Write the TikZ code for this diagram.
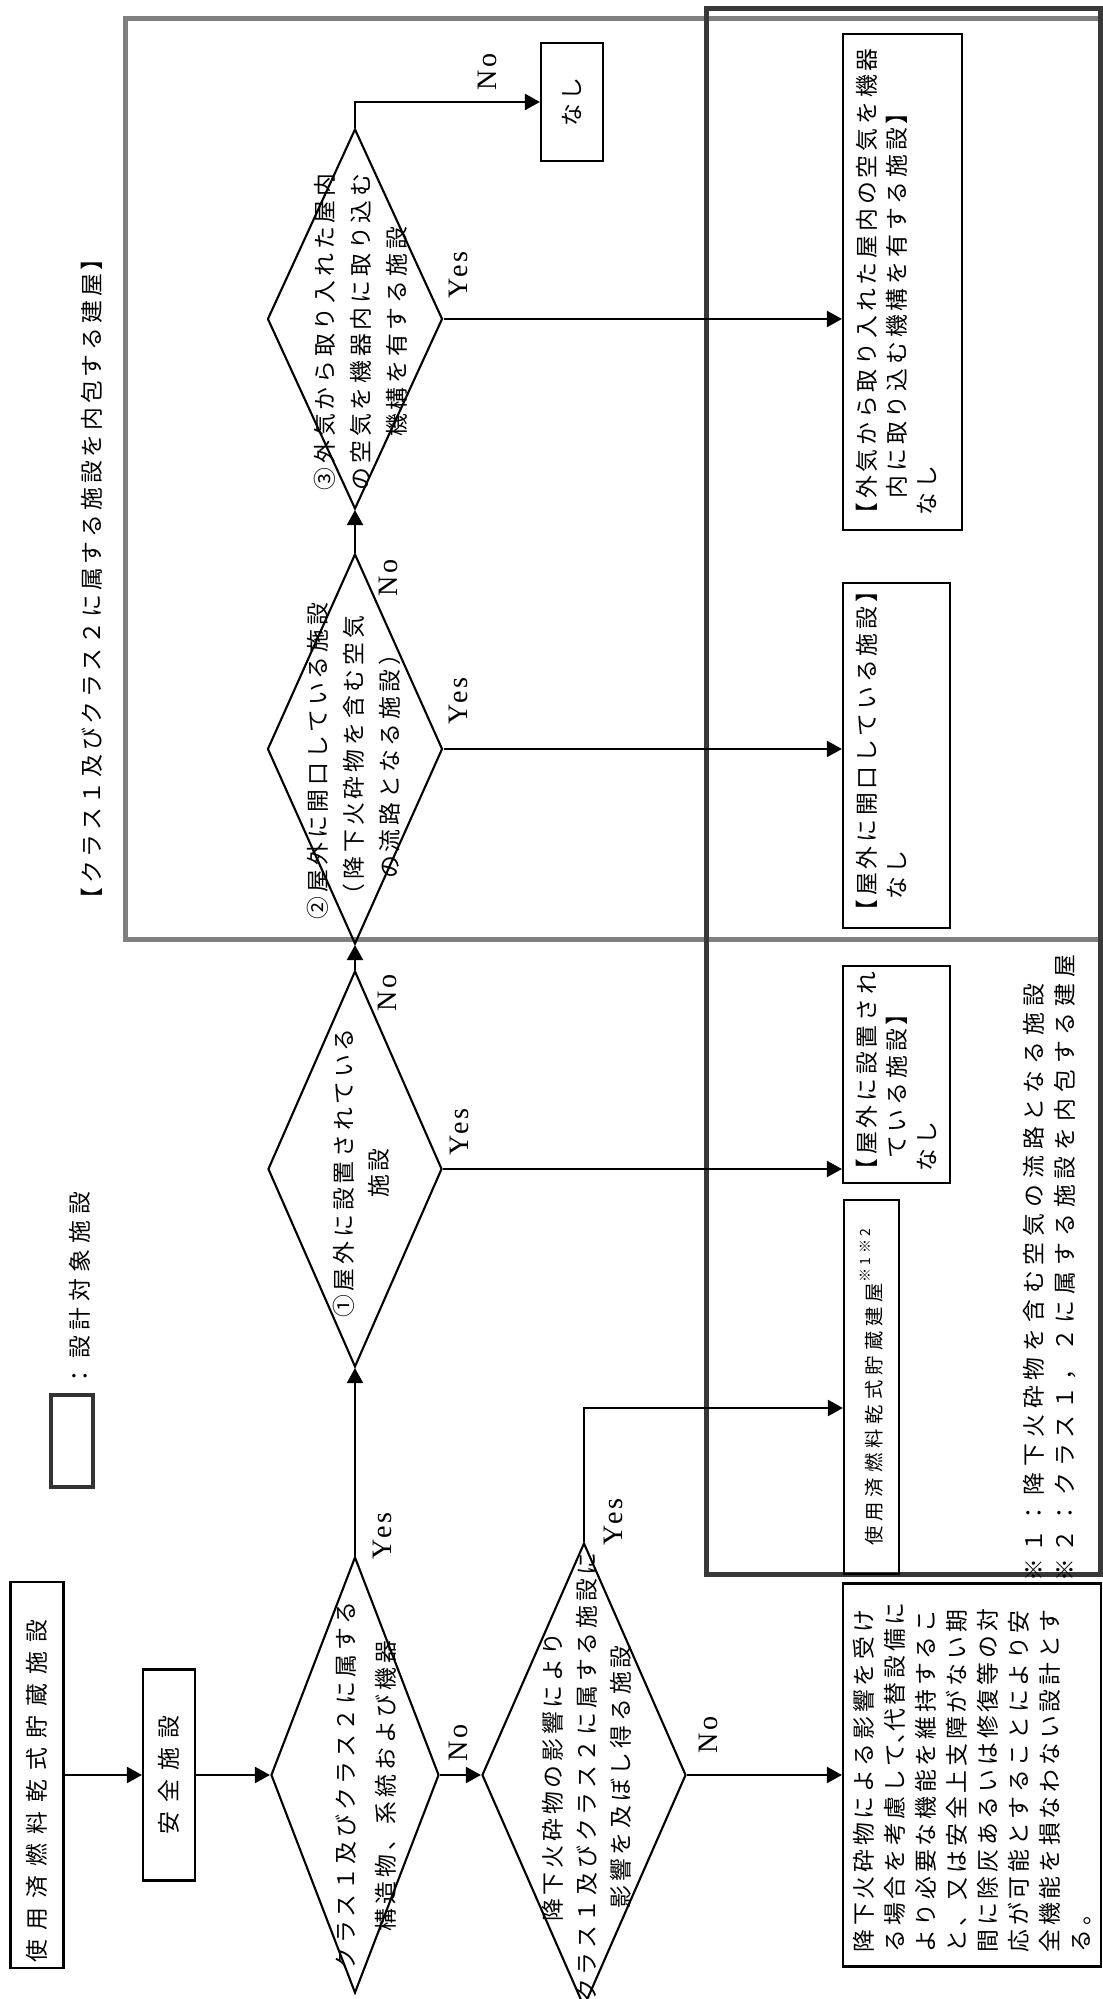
\documentclass[tikz,border=0pt]{standalone}
\usepackage{fontspec}
\setmainfont{Liberation Serif}
\newfontfamily\jp[LetterSpace=17]{Noto Sans CJK JP}
\newfontfamily\jpwide[LetterSpace=40]{Noto Sans CJK JP}
\newfontfamily\jpnote[LetterSpace=26]{Noto Sans CJK JP}
\newfontfamily\yesno[LetterSpace=10]{Liberation Serif}
\usetikzlibrary{arrows.meta,shapes.geometric}
\tikzset{
  box/.style={draw, line width=0.42mm, inner sep=0pt},
  dia/.style={diamond, draw, line width=0.42mm, inner sep=0pt},
  hull/.style={draw, line width=1mm, inner sep=0pt},
  flow/.style={-{Triangle[length=3mm,width=3.2mm]}, line width=0.42mm},
  lbl/.style={font=\yesno\fontsize{16}{18}\selectfont, inner sep=0pt},
  jtxt/.style={font=\jp\fontsize{13}{#1}\selectfont, align=center, inner sep=0pt},
  jtxt/.default=16pt,
  para/.style={font=\jp\fontsize{13}{#1}\selectfont, align=left, inner sep=0pt, anchor=north west},
  para/.default=16pt,
}

\begin{document}
\begin{tikzpicture}[x=0.2mm, y=0.2mm, rotate=90, transform shape]
  \useasboundingbox (0,0) rectangle (1999,1102);

  % --- frames ---
  \node (encl) [hull, draw=black!50, minimum width=184.2mm, minimum height=194.8mm] at (1519.5,489) {};
  \node (target) [hull, draw=black!78, minimum width=313mm, minimum height=78.6mm] at (1207.5,198.5) {};
  \node (ttl) [jtxt] at (1420,1010) {【クラス１及びクラス２に属する施設を内包する建屋】};

  % --- legend ---
  \node (leg) [hull, line width=0.8mm, draw=black!80, minimum width=18.4mm, minimum height=8.4mm] at (558,1030) {};
  \node (legtxt) [jtxt, anchor=west, font=\jpnote\fontsize{13}{16}\selectfont] at (611,1022) {：設計対象施設};

  % --- main column ---
  \node (top) [box, text width=74.8mm, inner xsep=1.2mm, align=left, minimum height=10.6mm,
    font=\jpwide\fontsize{13}{16}\selectfont] at (224,1065) {使用済燃料乾式貯蔵施設};
  \node (safe) [box, minimum width=42.2mm, minimum height=10.4mm,
    font=\jpwide\fontsize{13}{16}\selectfont] at (224,933) {安全施設};
  \node (d1) [dia, minimum width=87.2mm, minimum height=33.6mm] at (224,747) {};
  \node (d1txt) [jtxt=22.8pt] at (213,736) {クラス１及びクラス２に属する\\構造物、系統および機器};
  \node (d2) [dia, minimum width=92.8mm, minimum height=40.8mm] at (224,518) {};
  \node (d2txt) [jtxt=19.3pt] at (222,515) {降下火砕物の影響により\\クラス１及びクラス２に属する施設に\\影響を及ぼし得る施設};
  \node (final) [box, minimum width=76.6mm, minimum height=51.6mm] at (224,130) {};
  \node (finaltxt) [para=17.6pt] at (46,249) {降下火砕物による影響を受け\\る場合を考慮して\makebox[0.5em][l]{、}代替設備に\\より必要な機能を維持するこ\\と、又は安全上支障がない期\\間に除灰あるいは修復等の対\\応が可能とすることにより安\\全機能を損なわない設計とす\\る。};
  \node (bldg) [box, minimum width=74.8mm, minimum height=11mm,
    font=\jpnote\fontsize{11}{14}\selectfont] at (612,230.5) {使用済燃料乾式貯蔵建屋\raisebox{0.6em}{\fontsize{8}{9}\selectfont ※1※2}};

  % --- checks inside the building ---
  \node (d3) [dia, minimum width=79.2mm, minimum height=34.8mm] at (830,747) {};
  \node (d3txt) [jtxt=20pt] at (826,741) {①屋外に設置されている\\施設};
  \node (d4) [dia, minimum width=78mm, minimum height=35mm] at (1250,747) {};
  \node (d4txt) [jtxt=20.5pt] at (1238,748) {②屋外に開口している施設\\（降下火砕物を含む空気\\の流路となる施設）};
  \node (d5) [dia, minimum width=76mm, minimum height=35mm] at (1680,747) {};
  \node (d5txt) [jtxt=20.5pt] at (1667,741) {③外気から取り入れた屋内\\の空気を機器内に取り込む\\機構を有する施設};

  \node (out1) [box, minimum width=43.4mm, minimum height=21.4mm] at (924.5,205.5) {};
  \node (out1txt) [para=17pt] at (817,246) {【屋外に設置され\\\hspace*{1em}ている施設】\\\hspace*{0.45em}なし};
  \node (out2) [box, minimum width=69mm, minimum height=21.4mm] at (1243.5,205.5) {};
  \node (out2txt) [para=17pt] at (1076,246) {【屋外に開口している施設】\\\hspace*{1em}なし};
  \node (out3) [box, minimum width=99.2mm, minimum height=23.8mm] at (1717,199.5) {};
  \node (out3txt) [para=17pt] at (1473,246) {【外気から取り入れた屋内の空気を機器\\\hspace*{1.2em}内に取り込む機構を有する施設】\\\hspace*{0.45em}なし};
  \node (none) [box, minimum width=23.6mm, minimum height=12.4mm,
    font=\jp\fontsize{13}{16}\selectfont] at (1897,530) {なし};

  % --- notes ---
  \node (fn1) [jtxt, anchor=west, font=\jpnote\fontsize{13}{16}\selectfont] at (417,68) {※１：降下火砕物を含む空気の流路となる施設};
  \node (fn2) [jtxt, anchor=west, font=\jpnote\fontsize{13}{16}\selectfont] at (417,37) {※２：クラス１，２に属する施設を内包する建屋};

  % --- connectors ---
  \coordinate (bend) at (591,518);
  \draw[flow] (top) -- (safe);
  \draw[flow] (safe) -- (d1);
  \draw[flow] (d1) -- (d2);
  \draw[flow] (d2) -- (final);
  \draw[flow] (d1) -- (d3);
  \draw[flow] (d3) -- (d4);
  \draw[flow] (d4) -- (d5);
  \draw[flow] (d2.east) -- (bend) -- (bend |- bldg.north);
  \draw[flow] (d3.south) -- (d3.south |- out1.north);
  \draw[flow] (d4.south) -- (d4.south |- out2.north);
  \draw[flow] (d5.south) -- (d5.south |- out3.north);
  \draw[flow] (d5.east) -| (none.north);

  % --- branch labels ---
  \node (yes1) [lbl] at (463,720) {Yes};
  \node (yes2) [lbl] at (477,489) {Yes};
  \node (yes3) [lbl] at (867,643) {Yes};
  \node (yes4) [lbl] at (1298,644) {Yes};
  \node (yes5) [lbl] at (1724,644) {Yes};
  \node (no1) [lbl] at (256,644) {No};
  \node (no2) [lbl] at (264,394) {No};
  \node (no3) [lbl] at (1006,715) {No};
  \node (no4) [lbl] at (1421,714) {No};
  \node (no5) [lbl] at (1927,615) {No};
\end{tikzpicture}
\end{document}
